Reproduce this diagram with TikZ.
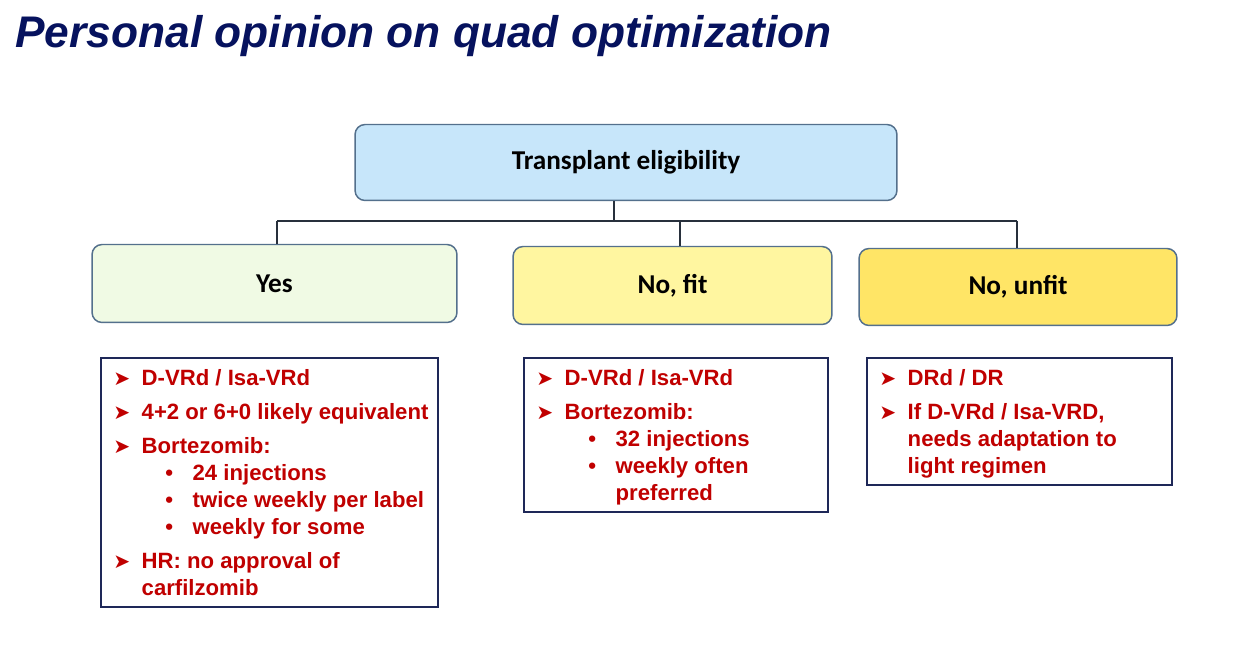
\documentclass[tikz,border=0pt]{standalone}
\usepackage{fontspec}
\setmainfont{Liberation Sans}
\newfontfamily\calibfont{Carlito}
\newfontfamily\dingfont{DejaVu Sans}
\usetikzlibrary{positioning}
\definecolor{titlenavy}{RGB}{6,18,94}
\definecolor{optred}{RGB}{192,0,0}
\definecolor{hdrline}{RGB}{84,112,140}
\definecolor{listline}{RGB}{30,40,88}
\definecolor{linkgray}{RGB}{40,48,60}
\definecolor{eligblue}{RGB}{199,230,250}
\definecolor{yesgreen}{RGB}{240,250,228}
\definecolor{fityellow}{RGB}{255,246,160}
\definecolor{unfityellow}{RGB}{255,229,102}
\setlength{\parskip}{0pt}

% list items inside the option boxes
\newcommand{\arrowmark}{{\dingfont\fontsize{11.5}{12}\selectfont ➤}}
\newcommand{\mainitem}[1]{\par\vspace{4pt}\hangindent=23.2pt\hangafter=1\noindent
  \makebox[23.2pt][l]{\hspace{7pt}\arrowmark}#1}
\newcommand{\dotitem}[1]{\par\hangindent=52.2pt\hangafter=1\noindent
  \makebox[52.2pt][l]{\hspace{36.6pt}\textbullet}#1}
\newcommand{\firststrut}{\rule{0pt}{15.9pt}}

\begin{document}
\begin{tikzpicture}[x=0.02cm, y=-0.02cm,
    hdr/.style={draw=hdrline, line width=0.85pt, rounded corners=0.2cm, inner sep=0pt,
      font=\calibfont\bfseries\fontsize{15.5}{18}\selectfont},
    listbox/.style={draw=listline, line width=1.1pt, fill=white, inner sep=0pt,
      anchor=north west, text=optred, font=\bfseries\fontsize{12.6}{15.3}\selectfont},
    link/.style={draw=linkgray, line width=0.85pt}]
  \useasboundingbox[fill=white] (0,0) rectangle (1248,651);

  % title
  \node[anchor=base west, inner sep=0pt, text=titlenavy,
    font=\bfseries\itshape\fontsize{25.2}{30}\selectfont] (title) at (15,48)
    {Personal opinion on quad optimization};

  % decision boxes
  \node[hdr, fill=eligblue, minimum width=10.84cm, minimum height=1.52cm] (elig)
    at (626,162.5) {Transplant eligibility};
  \node[hdr, fill=yesgreen, minimum width=7.30cm, minimum height=1.56cm] (yes)
    at (274.5,283.5) {Yes};
  \node[hdr, fill=fityellow, minimum width=6.38cm, minimum height=1.56cm] (fit)
    at (672.5,285.5) {No, fit};
  \node[hdr, fill=unfityellow, minimum width=6.36cm, minimum height=1.54cm] (unfit)
    at (1018,287) {No, unfit};

  % tree connectors
  \coordinate (jElig) at (614,221);
  \coordinate (jYes) at (277,221);
  \coordinate (jFit) at (680,221);
  \coordinate (jUnfit) at (1017,221);
  \draw[link] (elig.south -| jElig) -- (jElig);
  \draw[link] (jYes) -- (jUnfit);
  \foreach \j/\b in {jYes/yes, jFit/fit, jUnfit/unfit}
    \draw[link] (\j) -- (\j |- \b.north);

  % option lists
  \node[listbox] (yeslist) at (100,357) {\parbox[t][142pt][t]{192pt}{\raggedright
    \vspace*{-4pt}%
    \mainitem{\firststrut D-VRd / Isa-VRd}
    \mainitem{4+2 or 6+0 likely equivalent}
    \mainitem{Bortezomib:}
    \dotitem{24 injections}
    \dotitem{twice weekly per label}
    \dotitem{weekly for some}
    \mainitem{HR: no approval of\newline carfilzomib}}};
  \node[listbox] (fitlist) at (523,357) {\parbox[t][87.6pt][t]{172.9pt}{\raggedright
    \vspace*{-4pt}%
    \mainitem{\firststrut D-VRd / Isa-VRd}
    \mainitem{Bortezomib:}
    \dotitem{32 injections}
    \dotitem{weekly often\newline preferred}}};
  \node[listbox] (unfitlist) at (866,357) {\parbox[t][72.3pt][t]{173.5pt}{\raggedright
    \vspace*{-4pt}%
    \mainitem{\firststrut DRd / DR}
    \mainitem{If D-VRd / Isa-VRD,\newline needs adaptation to\newline light regimen}}};
\end{tikzpicture}
\end{document}
